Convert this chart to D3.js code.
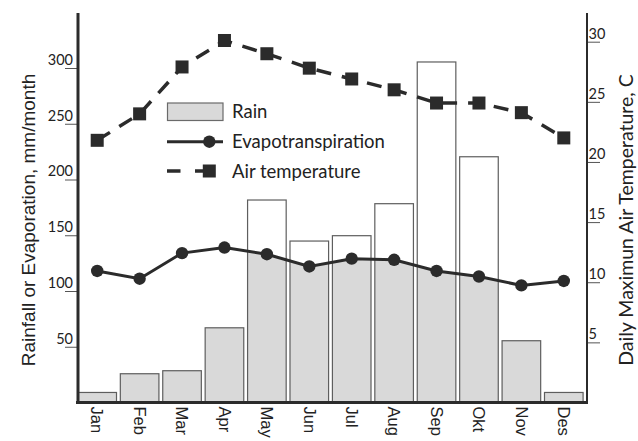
<!DOCTYPE html>
<html>
<head>
<meta charset="utf-8">
<script src="https://cdn.jsdelivr.net/npm/d3@7"></script>
<style>
  html, body { margin: 0; padding: 0; background: #fff; }
  svg { display: block; }
</style>
</head>
<body>
<svg id="chart" width="638" height="441"></svg>
<script>
const months = ["Jan","Feb","Mar","Apr","May","Jun","Jul","Aug","Sep","Okt","Nov","Des"];
const rain = [9, 25.8, 28.5, 67, 181.6, 144.8, 149.6, 178.3, 305.4, 220.4, 55.4, 9];
const evap = [118, 111, 134, 139, 133, 122, 129, 128, 118, 113, 105, 109];
const airTemp = [21.8, 24, 27.9, 30.1, 29, 27.8, 26.9, 26, 24.9, 24.9, 24.1, 22];
const leftTicks = [50, 100, 150, 200, 250, 300];
const rightTicks = [5, 10, 15, 20, 25, 30];
const legendLabels = ["Rain", "Evapotranspiration", "Air temperature"];

const svg = d3.select("#chart");
const X0 = 78, X1 = 587, YB = 402.5, YT = 13;
const dark = "#2b2b2b";

const x = d3.scaleBand().domain(months).range([76, 585]).paddingInner(0.09).paddingOuter(0.045);
const yL = d3.scaleLinear().domain([0, (YB - YT) / (334.5 / 300)]).range([YB, YT]);
const yR = d3.scaleLinear().domain([0, (YB - YT) / (360.8 / 30)]).range([YB, YT]);
const cx = m => x(m) + x.bandwidth() / 2;

// clip: area under evapotranspiration line
const etPts = months.map((m, i) => [cx(m), yL(evap[i])]);
const ext = [[X0 - 5, etPts[0][1]], ...etPts, [X1 + 5, etPts[etPts.length - 1][1]]];
const areaGen = d3.area().x(d => d[0]).y0(YB).y1(d => d[1]);
svg.append("defs").append("clipPath").attr("id", "below")
  .append("path").attr("d", areaGen(ext));

// bars - white
svg.append("g").selectAll("rect").data(months).join("rect")
  .attr("x", m => x(m)).attr("width", x.bandwidth())
  .attr("y", (m, i) => yL(rain[i])).attr("height", (m, i) => YB - yL(rain[i]))
  .attr("fill", "#fff");
// bars - gray part below ET
svg.append("g").attr("clip-path", "url(#below)").selectAll("rect").data(months).join("rect")
  .attr("x", m => x(m)).attr("width", x.bandwidth())
  .attr("y", (m, i) => yL(rain[i])).attr("height", (m, i) => YB - yL(rain[i]))
  .attr("fill", "#d9d9d9");
// bar outlines
svg.append("g").selectAll("rect").data(months).join("rect")
  .attr("x", m => x(m)).attr("width", x.bandwidth())
  .attr("y", (m, i) => yL(rain[i])).attr("height", (m, i) => YB - yL(rain[i]))
  .attr("fill", "none").attr("stroke", "#5e5e5e").attr("stroke-width", 1.2);

// axes
const gL = svg.append("g").attr("transform", `translate(${X0},0)`)
  .call(d3.axisLeft(yL).tickValues(leftTicks).tickSize(13).tickFormat(d3.format("d")));
gL.select(".domain").remove();
gL.selectAll(".tick line").attr("stroke", "#555").attr("stroke-width", 1);
gL.selectAll(".tick text").attr("x", -5).attr("dy", "-0.25em")
  .attr("font-family", "Lato, 'Open Sans', sans-serif").attr("font-size", 14.5).attr("fill", "#222");

const gR = svg.append("g").attr("transform", `translate(${X1},0)`)
  .call(d3.axisRight(yR).tickValues(rightTicks).tickSize(13).tickFormat(d3.format("d")));
gR.select(".domain").remove();
gR.selectAll(".tick line").attr("stroke", "#555").attr("stroke-width", 1);
gR.selectAll(".tick text").attr("x", 1.5).attr("dy", "-0.25em").attr("text-anchor", "start")
  .attr("font-family", "Lato, 'Open Sans', sans-serif").attr("font-size", 14.5).attr("fill", "#222");

svg.append("line").attr("x1", X0).attr("x2", X0).attr("y1", YT).attr("y2", YB + 1.5)
  .attr("stroke", dark).attr("stroke-width", 3);
svg.append("line").attr("x1", X1).attr("x2", X1).attr("y1", YT).attr("y2", YB + 1.5)
  .attr("stroke", dark).attr("stroke-width", 2);
svg.append("line").attr("x1", 76).attr("x2", X1 + 1).attr("y1", YB).attr("y2", YB)
  .attr("stroke", dark).attr("stroke-width", 3);

// month labels
svg.append("g").selectAll("text").data(months).join("text")
  .attr("transform", m => `translate(${cx(m)},${YB + 4}) rotate(90)`)
  .attr("dy", "0.35em").attr("text-anchor", "start")
  .attr("font-family", "'Liberation Sans', Arial, sans-serif").attr("font-size", 16.5).attr("fill", "#222")
  .text(m => m);

// ET line
const lineGen = d3.line();
svg.append("path").attr("d", lineGen(etPts)).attr("fill", "none")
  .attr("stroke", dark).attr("stroke-width", 3);
svg.append("g").selectAll("circle").data(etPts).join("circle")
  .attr("cx", d => d[0]).attr("cy", d => d[1]).attr("r", 6.2).attr("fill", dark);

// temperature line
const tPts = months.map((m, i) => [cx(m), yR(airTemp[i])]);
svg.append("path").attr("d", lineGen(tPts)).attr("fill", "none")
  .attr("stroke", dark).attr("stroke-width", 3.5).attr("stroke-dasharray", "15,11");
svg.append("g").selectAll("rect").data(tPts).join("rect")
  .attr("x", d => d[0] - 6.5).attr("y", d => d[1] - 6.5).attr("width", 13).attr("height", 13)
  .attr("fill", dark);

// axis titles
svg.append("text").attr("transform", "translate(35,220) rotate(-90)")
  .attr("text-anchor", "middle").attr("font-family", "'Liberation Sans', Arial, sans-serif")
  .attr("font-size", 19).attr("fill", "#222").text("Rainfall or Evaporation, mm/month");
svg.append("text").attr("transform", "translate(633,220) rotate(-90)")
  .attr("text-anchor", "middle").attr("font-family", "Lato, 'Open Sans', sans-serif")
  .attr("font-size", 19.5).attr("fill", "#222").text("Daily Maximun Air Temperature, C");

// legend
const lg = svg.append("g");
lg.append("rect").attr("x", 167.5).attr("y", 103).attr("width", 55.5).attr("height", 17.5)
  .attr("fill", "#d9d9d9").attr("stroke", "#6a6a6a").attr("stroke-width", 1.2);
lg.append("line").attr("x1", 167).attr("x2", 223).attr("y1", 141.7).attr("y2", 141.7)
  .attr("stroke", dark).attr("stroke-width", 3);
lg.append("circle").attr("cx", 209.3).attr("cy", 141.7).attr("r", 6.2).attr("fill", dark);
lg.append("line").attr("x1", 167).attr("x2", 209).attr("y1", 171).attr("y2", 171)
  .attr("stroke", dark).attr("stroke-width", 3.5).attr("stroke-dasharray", "13.5,14.5");
lg.append("rect").attr("x", 209.3 - 6.5).attr("y", 171 - 6.5).attr("width", 13).attr("height", 13).attr("fill", dark);
lg.selectAll("text.lab").data(legendLabels).join("text").attr("class", "lab")
  .attr("x", 232).attr("y", (d, i) => 112 + i * 30).attr("dy", "0.35em")
  .attr("font-family", "Lato, 'Open Sans', sans-serif").attr("font-size", 18.5).attr("fill", "#222")
  .text(d => d);
</script>
</body>
</html>
